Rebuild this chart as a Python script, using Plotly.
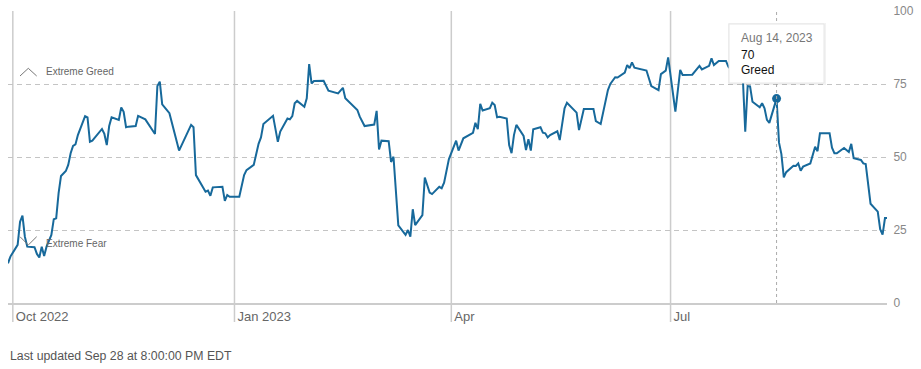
import plotly.graph_objects as go

# ---------------- data ----------------
dates = [
    "2022-09-29", "2022-09-30", "2022-10-03", "2022-10-04", "2022-10-05", "2022-10-06", "2022-10-07",
    "2022-10-10", "2022-10-11", "2022-10-12", "2022-10-13", "2022-10-14", "2022-10-15", "2022-10-17",
    "2022-10-18", "2022-10-19", "2022-10-20", "2022-10-21", "2022-10-23", "2022-10-24", "2022-10-25",
    "2022-10-26", "2022-10-27", "2022-10-28", "2022-10-31", "2022-11-01", "2022-11-02", "2022-11-03",
    "2022-11-07", "2022-11-08", "2022-11-09", "2022-11-10", "2022-11-11", "2022-11-14", "2022-11-15",
    "2022-11-16", "2022-11-17", "2022-11-18", "2022-11-21", "2022-11-22", "2022-11-25", "2022-11-28",
    "2022-11-29", "2022-11-30", "2022-12-01", "2022-12-02", "2022-12-05", "2022-12-09", "2022-12-14",
    "2022-12-15", "2022-12-16", "2022-12-20", "2022-12-21", "2022-12-22", "2022-12-23", "2022-12-27",
    "2022-12-28", "2022-12-29", "2022-12-30", "2023-01-03", "2023-01-05", "2023-01-06", "2023-01-09",
    "2023-01-11", "2023-01-12", "2023-01-13", "2023-01-17", "2023-01-19", "2023-01-20", "2023-01-23",
    "2023-01-24", "2023-01-25", "2023-01-26", "2023-01-27", "2023-01-30", "2023-01-31", "2023-02-01",
    "2023-02-02", "2023-02-03", "2023-02-07", "2023-02-09", "2023-02-13", "2023-02-15", "2023-02-16",
    "2023-02-21", "2023-02-22", "2023-02-24", "2023-02-28", "2023-03-01", "2023-03-02", "2023-03-03",
    "2023-03-06", "2023-03-07", "2023-03-08", "2023-03-10", "2023-03-13", "2023-03-14", "2023-03-15",
    "2023-03-16", "2023-03-17", "2023-03-20", "2023-03-21", "2023-03-23", "2023-03-24", "2023-03-27",
    "2023-03-28", "2023-03-29", "2023-03-31", "2023-04-03", "2023-04-04", "2023-04-06", "2023-04-10",
    "2023-04-11", "2023-04-12", "2023-04-13", "2023-04-14", "2023-04-17", "2023-04-18", "2023-04-19",
    "2023-04-20", "2023-04-21", "2023-04-24", "2023-04-25", "2023-04-26", "2023-04-27", "2023-04-28",
    "2023-05-01", "2023-05-02", "2023-05-03", "2023-05-04", "2023-05-05", "2023-05-08", "2023-05-09",
    "2023-05-10", "2023-05-11", "2023-05-12", "2023-05-15", "2023-05-16", "2023-05-18", "2023-05-19",
    "2023-05-23", "2023-05-24", "2023-05-26", "2023-05-29", "2023-05-30", "2023-05-31", "2023-06-02",
    "2023-06-05", "2023-06-06", "2023-06-08", "2023-06-09", "2023-06-12", "2023-06-13", "2023-06-14",
    "2023-06-15", "2023-06-16", "2023-06-20", "2023-06-21", "2023-06-23", "2023-06-26", "2023-06-27",
    "2023-06-29", "2023-06-30", "2023-07-03", "2023-07-05", "2023-07-06", "2023-07-10", "2023-07-13",
    "2023-07-14", "2023-07-17", "2023-07-18", "2023-07-19", "2023-07-21", "2023-07-24", "2023-07-25",
    "2023-07-26", "2023-07-27", "2023-07-28", "2023-07-31", "2023-08-01", "2023-08-02", "2023-08-03",
    "2023-08-04", "2023-08-07", "2023-08-08", "2023-08-09", "2023-08-10", "2023-08-11", "2023-08-14",
    "2023-08-15", "2023-08-16", "2023-08-17", "2023-08-18", "2023-08-21", "2023-08-22", "2023-08-23",
    "2023-08-24", "2023-08-25", "2023-08-28", "2023-08-29", "2023-08-30", "2023-08-31", "2023-09-01",
    "2023-09-05", "2023-09-06", "2023-09-07", "2023-09-08", "2023-09-11", "2023-09-13", "2023-09-14",
    "2023-09-15", "2023-09-18", "2023-09-19", "2023-09-20", "2023-09-22", "2023-09-25", "2023-09-26",
    "2023-09-27", "2023-09-28", "2023-09-28 20:00",
]
values = [
    13.6, 15.9, 19.9, 27.8, 29.9, 22.7, 19.3,
    19.1, 16.8, 15.6, 19.3, 16.1, 19.3, 23.3,
    28.7, 29.0, 37.6, 43.5, 45.2, 47.3, 51.3,
    53.8, 54.3, 57.5, 64.0, 63.6, 55.2, 55.6,
    59.6, 57.9, 54.1, 60.6, 63.6, 62.7, 67.0,
    65.5, 60.2, 60.4, 60.6, 64.1, 62.9, 59.2,
    57.9, 74.3, 75.8, 68.0, 65.0, 52.2, 61.0,
    60.2, 43.8, 38.1, 38.5, 36.7, 39.6, 39.8,
    35.0, 37.0, 36.4, 36.4, 43.8, 45.5, 47.3,
    54.5, 56.7, 61.3, 64.1, 55.2, 58.7, 63.2,
    62.9, 64.0, 68.4, 69.2, 67.2, 70.1, 81.8,
    75.2, 76.0, 76.1, 72.7, 71.8, 73.7, 70.1,
    66.1, 63.8, 60.6, 61.1, 65.8, 52.6, 55.6,
    55.4, 48.3, 50.1, 26.6, 23.3, 25.0, 22.7,
    32.1, 26.7, 30.1, 43.0, 37.8, 37.3, 39.8,
    39.3, 41.2, 49.3, 55.6, 52.2, 56.4, 58.3,
    61.7, 59.5, 68.2, 65.9, 66.7, 68.6, 67.8,
    63.6, 63.8, 63.2, 54.1, 51.3, 57.5, 61.0,
    57.2, 52.4, 56.1, 52.2, 59.5, 60.2, 58.3,
    58.1, 56.7, 57.5, 58.8, 55.8, 66.7, 68.6,
    65.2, 59.2, 66.4, 66.4, 66.4, 62.3, 61.3,
    72.9, 75.0, 77.3, 77.2, 78.9, 81.5, 80.4,
    82.4, 80.6, 80.0, 79.6, 74.3, 72.9, 78.4,
    79.6, 84.1, 65.5, 79.8, 78.1, 78.2, 81.2,
    80.0, 81.2, 83.8, 81.5, 82.9, 82.9, 80.9,
    80.0, 78.0, 79.0, 77.0, 58.7, 74.3, 74.2,
    68.9, 67.0, 68.4, 66.7, 62.7, 61.7, 70.0,
    55.0, 51.0, 43.0, 44.8, 47.0, 46.9, 47.8,
    45.3, 46.7, 47.8, 50.4, 53.5, 52.0, 58.1,
    58.1, 53.2, 51.3, 51.3, 53.1, 51.7, 54.5,
    49.6, 49.0, 47.8, 47.6, 34.0, 31.3, 25.3,
    23.4, 29.1, 29.1,
]

tick_dates = ["2022-10-01", "2023-01-01", "2023-04-01", "2023-07-01"]
tick_labels = ["Oct 2022", "Jan 2023", "Apr", "Jul"]
y_ticks = [0, 25, 50, 75, 100]

hl_date = "2023-08-14"
hl_label = "Aug 14, 2023"
hl_value = 70
hl_rating = "Greed"

footer = "Last updated Sep 28 at 8:00:00 PM EDT"

# ---------------- layout helpers ----------------
W, H = 921, 369
# plot area in page pixels
P_L, P_R, P_T, P_B = 8, 887, 11, 303
ML, MR, MT, MB = P_L, W - P_R, P_T, H - P_B
PW, PH = P_R - P_L, P_B - P_T


def px(x, y):
    """page pixel position -> paper coordinates (decorations only)"""
    return (x - P_L) / PW, (P_B - y) / PH


LINE = "#17699b"
FONT = "Liberation Sans, Arial, sans-serif"

fig = go.Figure()
fig.add_trace(go.Scatter(
    x=dates, y=values, mode="lines",
    line=dict(color=LINE, width=2), hoverinfo="skip", showlegend=False,
))
fig.add_trace(go.Scatter(
    x=[hl_date], y=[hl_value], mode="markers",
    marker=dict(color=LINE, size=9), hoverinfo="skip", showlegend=False,
))

shapes = []
# month tick lines extending below the axis
for d in tick_dates:
    shapes.append(dict(type="line", xref="x", yref="paper", x0=d, x1=d,
                       y0=px(0, 322)[1], y1=1, layer="below",
                       line=dict(color="#cccccc", width=1.5)))
# hover crosshair
shapes.append(dict(type="line", xref="x", yref="paper", x0=hl_date, x1=hl_date,
                   y0=0, y1=1, layer="above",
                   line=dict(color="#aaaaaa", width=1, dash="dot")))
# tooltip shadow + box
sx0, sy0 = px(728, 85)
sx1, sy1 = px(826, 23)
shapes.append(dict(type="rect", xref="paper", yref="paper", x0=sx0, y0=sy0, x1=sx1, y1=sy1,
                   layer="above", fillcolor="rgba(0,0,0,0.05)", line=dict(width=0)))
bx0, by0 = px(729, 83)
bx1, by1 = px(824, 24)
shapes.append(dict(type="rect", xref="paper", yref="paper", x0=bx0, y0=by0, x1=bx1, y1=by1,
                   layer="above", fillcolor="white", line=dict(color="#e6e6e6", width=1)))
# chevrons for Extreme Greed / Extreme Fear
for pts in ([(20, 76), (28.3, 68.3), (36.7, 76)], [(20, 236.7), (28.3, 245), (36.7, 236.7)]):
    p = [px(a, b) for a, b in pts]
    path = "M {} {} L {} {} L {} {}".format(p[0][0], p[0][1], p[1][0], p[1][1], p[2][0], p[2][1])
    shapes.append(dict(type="path", xref="paper", yref="paper", path=path,
                       line=dict(color="#777777", width=1)))

annotations = []


def add_text(text, x, y, size, color, xanchor="left"):
    ax, ay = px(x, y)
    annotations.append(dict(text=text, x=ax, y=ay, xref="paper", yref="paper",
                            xanchor=xanchor, yanchor="middle", showarrow=False,
                            font=dict(family=FONT, size=size, color=color)))


add_text("Extreme Greed", 44, 72, 10, "#666666")
add_text("Extreme Fear", 44, 243, 10, "#666666")
add_text(hl_label, 739, 38, 12, "#777777")
add_text(str(hl_value), 739, 55, 12, "#111111")
add_text(hl_rating, 739, 70, 12, "#111111")
add_text(footer, 8, 356, 12.3, "#555555")

fig.update_layout(
    width=W, height=H,
    margin=dict(l=ML, r=MR, t=MT, b=MB, autoexpand=False),
    paper_bgcolor="white", plot_bgcolor="white",
    shapes=shapes, annotations=annotations,
    font=dict(family=FONT),
    xaxis=dict(
        type="date", range=[dates[0], dates[-1]],
        tickvals=tick_dates, ticktext=tick_labels,
        showgrid=False, ticks="", ticklabelposition="outside right",
        ticklabelshift=2, ticklabeloverflow="allow",
        tickfont=dict(size=13, color="#666666"), automargin=False,
        showline=True, linecolor="#cccccc", linewidth=2,
        zeroline=False, fixedrange=True,
    ),
    yaxis=dict(
        side="right", range=[0, 100], tickvals=y_ticks, automargin=False,
        showgrid=True, gridcolor="#c4c4c4", gridwidth=1, griddash="5px,4px",
        zeroline=False, ticks="outside", ticklen=3, tickcolor="rgba(0,0,0,0)",
        ticklabeloverflow="allow",
        tickfont=dict(size=12, color="#888888"), showline=False,
    ),
)

# place the figure flush with the page's top-left corner
fig.write_html(
    "out.html",
    config={"displayModeBar": False, "staticPlot": True},
    post_script="document.body.style.margin='0';document.body.style.overflow='hidden';",
)
